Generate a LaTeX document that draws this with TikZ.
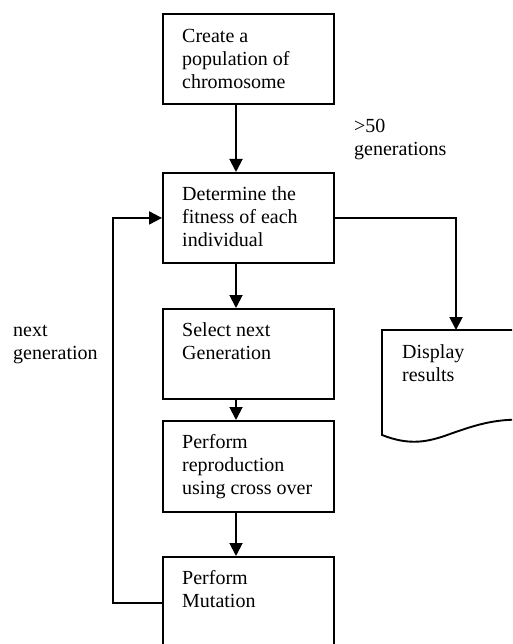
\documentclass[tikz,border=0pt]{standalone}
\usepackage{fontspec}
\setmainfont{Liberation Serif}
\usetikzlibrary{arrows.meta,calc}
\begin{document}
\begin{tikzpicture}[x=1pt,y=-1pt,
  box/.style={draw,line width=1.9pt,minimum width=171pt,minimum height=90pt,anchor=north west,inner sep=0pt},
  txt/.style={anchor=base west,inner sep=0pt,align=left,font=\fontsize{20}{23}\selectfont},
  conn/.style={line width=1.9pt,-{Triangle[length=13pt,width=13pt]}}]
\useasboundingbox (0,0) rectangle (512,644);
\clip (0,0) rectangle (512,644);
\fill[white] (0,0) rectangle (512,644);
\coordinate (ax) at (236,0);
% boxes
\node[box] (b1) at (162,13) {};
\node[box] (b2) at (162,172) {};
\node[box] (b3) at (162,308) {};
\node[box,minimum height=91pt] (b4) at (162,420) {};
\node[box,minimum height=92pt] (b5) at (162,556) {};
% display (document shape)
\coordinate (dtop) at (456,330);
\draw[line width=1.9pt] (382,435) -- (382,330) -- (530,330) -- (530,420)
  .. controls (498,418) and (478,424) .. (450,434)
  .. controls (428,442) and (410,446) .. cycle;
% texts (anchor on last line's baseline)
\node[txt] (t1) at (182,89) {Create a\\population of\\chromosome};
\node[txt] (t2) at (182,246) {Determine the\\fitness of each\\individual};
\node[txt] (t3) at (182,359) {Select next\\Generation};
\node[txt] (t4) at (182,494) {Perform\\reproduction\\using cross\ over};
\node[txt] (t5) at (182,607) {Perform\\Mutation};
\node[txt] (t6) at (402,381) {Display\\results};
\node[txt] (l1) at (354,156) {>50\\generations};
\node[txt] (l2) at (13,359) {next\\generation};
% connectors
\draw[conn] (b1.south -| ax) -- (b2.north -| ax);
\draw[conn] (b2.south -| ax) -- (b3.north -| ax);
\draw[conn] (b3.south -| ax) -- (b4.north -| ax);
\draw[conn] (b4.south -| ax) -- (b5.north -| ax);
\draw[conn] (b5.west) -- ++(-49,0) |- (b2.west);
\draw[conn] (b2.east) -| (dtop);
\end{tikzpicture}
\end{document}
